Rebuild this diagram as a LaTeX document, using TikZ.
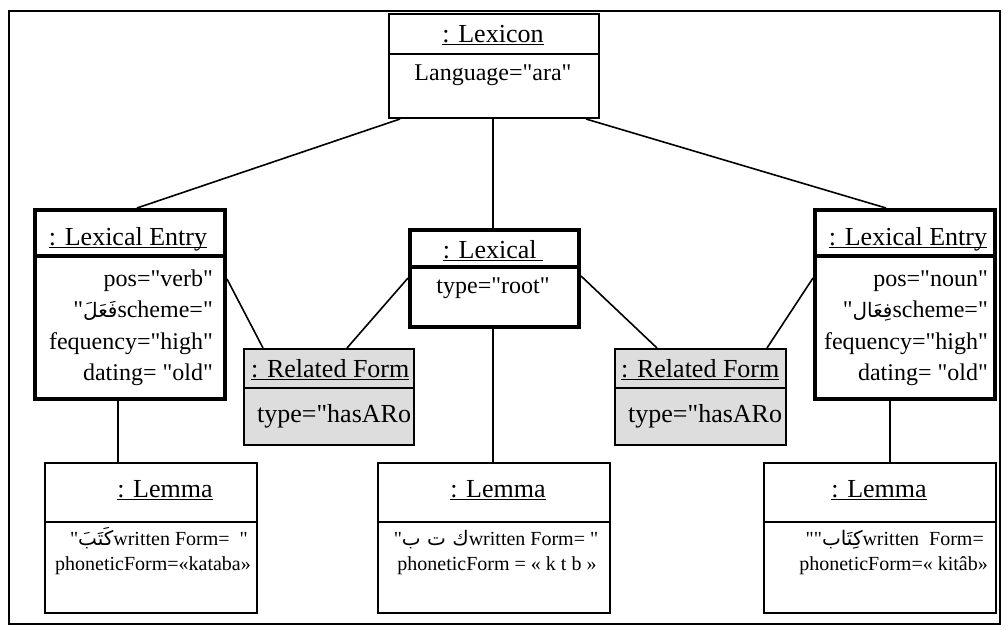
\documentclass[tikz,border=0pt]{standalone}
\usepackage{fontspec}
\setmainfont{Liberation Serif}[Ligatures=TeXOff]
\newfontfamily\arabicfont[Script=Arabic]{DejaVu Sans}
\TeXXeTstate=1
\usetikzlibrary{calc}

% underlined object name (UML instance header)
\newcommand\hdr[1]{\setbox0\hbox{#1}\rlap{\rule[-0.13em]{\wd0}{0.055em}}\box0}
% Arabic run inside a left-to-right line
\newcommand\artxt[1]{{\arabicfont\fontsize{20}{24}\selectfont\beginR #1\endR}}

\definecolor{rfgray}{RGB}{221,221,221}

\tikzset{
  objbox/.style={draw, line width=2pt, inner sep=0pt, anchor=north west},
  thickbox/.style={objbox, line width=4pt},
  relbox/.style={objbox, fill=rfgray},
  divider/.style={line width=2pt},
  thickdivider/.style={line width=4pt},
  link/.style={line width=1.6pt},
  head/.style={font=\fontsize{26}{30}\selectfont, inner sep=0pt, anchor=base},
  attr/.style={font=\fontsize{24}{28}\selectfont, inner sep=0pt},
  lattr/.style={font=\fontsize{20}{24}\selectfont, inner sep=0pt},
}

\begin{document}
\begin{tikzpicture}[x=1pt, y=-1pt]
\useasboundingbox (0,0) rectangle (1008,632);

% outer frame
\node[objbox, minimum width=991pt, minimum height=613pt] (frame) at (8,10) {};

% object boxes
\node[objbox, minimum width=210pt, minimum height=104pt, fill=white] (lex) at (388,13) {};
\node[thickbox, minimum width=190pt, minimum height=189pt] (entryL) at (33,208) {};
\node[thickbox, minimum width=180pt, minimum height=189pt] (entryR) at (813,208) {};
\node[thickbox, minimum width=169pt, minimum height=97pt] (root) at (408,228) {};
\node[relbox, minimum width=170pt, minimum height=96pt] (rfL) at (243,348) {};
\node[relbox, minimum width=171pt, minimum height=96pt] (rfR) at (614,348) {};
\node[objbox, minimum width=212pt, minimum height=150pt] (lemL) at (44,462) {};
\node[objbox, minimum width=232pt, minimum height=150pt] (lemM) at (377,462) {};
\node[objbox, minimum width=232pt, minimum height=150pt] (lemR) at (763,462) {};

% compartment dividers
\draw[divider] (lex.west |- 0,54) -- (lex.east |- 0,54);
\draw[thickdivider] (entryL.west |- 0,256) -- (entryL.east |- 0,256);
\draw[thickdivider] (entryR.west |- 0,256) -- (entryR.east |- 0,256);
\draw[thickdivider] (root.west |- 0,267) -- (root.east |- 0,267);
\draw[divider] (rfL.west |- 0,388) -- (rfL.east |- 0,388);
\draw[divider] (rfR.west |- 0,388) -- (rfR.east |- 0,388);
\draw[divider] (lemL.west |- 0,522) -- (lemL.east |- 0,522);
\draw[divider] (lemM.west |- 0,522) -- (lemM.east |- 0,522);
\draw[divider] (lemR.west |- 0,522) -- (lemR.east |- 0,522);

% links
\draw[link] (lex.south west -| 400,0) -- (entryL.north west -| 137,0);
\draw[link] (lex.south east -| 586,0) -- (entryR.north west -| 886,0);
\draw[link] (lex.south -| 493,0) -- (root.north -| 493,0);
\draw[link] (entryL.east |- 0,279) -- (rfL.north -| 263,0);
\draw[link] (root.west |- 0,278) -- (rfL.north -| 347,0);
\draw[link] (root.east |- 0,276) -- (rfR.north -| 657,0);
\draw[link] (entryR.west |- 0,278) -- (rfR.north -| 767,0);
\draw[link] (entryL.south -| 118,0) -- (lemL.north -| 118,0);
\draw[link] (root.south -| 493,0) -- (lemM.north -| 493,0);
\draw[link] (entryR.south -| 890,0) -- (lemR.north -| 890,0);

% Lexicon
\node[head] (lexh) at (493,42) {\hdr{: Lexicon}};
\node[attr, anchor=base] (lexa) at (493,80) {Language="ara"};

% left lexical entry
\node[head] (eLh) at (128,245) {\hdr{: Lexical Entry}};
\node[attr, anchor=base east] (eL1) at (213,286) {pos="verb"};
\node[attr, anchor=base east] (eL2) at (213,317) {"\artxt{فَعَلَ}scheme="};
\node[attr, anchor=base east] (eL3) at (213,349) {fequency="high"};
\node[attr, anchor=base east] (eL4) at (213,380) {dating= "old"};

% right lexical entry
\node[head] (eRh) at (908,245) {\hdr{: Lexical Entry}};
\node[attr, anchor=base east] (eR1) at (988,286) {pos="noun"};
\node[attr, anchor=base east] (eR2) at (988,317) {"\artxt{فِعَال}scheme="};
\node[attr, anchor=base east] (eR3) at (988,349) {fequency="high"};
\node[attr, anchor=base east] (eR4) at (988,380) {dating= "old"};

% root object
\node[head] (rooth) at (493,258) {\hdr{: Lexical\ }};
\node[attr, anchor=base] (roota) at (493,293) {type="root"};

% related forms
\node[head, anchor=base west] (rfLh) at (251,377) {\hdr{: Related Form}};
\node[head, anchor=base west] (rfRh) at (621,377) {\hdr{: Related Form}};
\begin{scope}
  \clip (rfL.north west) rectangle (rfL.south east);
  \node[head, anchor=base west] (rfLa) at (257,422) {type="hasARo};
\end{scope}
\begin{scope}
  \clip (rfR.north west) rectangle (rfR.south east);
  \node[head, anchor=base west] (rfRa) at (628,422) {type="hasARo};
\end{scope}

% lemmas
\node[head] (lLh) at (165,497) {\hdr{: Lemma}};
\node[lattr, anchor=base east] (lL1) at (248,545) {"\artxt{كَتَبَ}written Form=\ \ "};
\node[lattr, anchor=base east] (lL2) at (251,570) {phoneticForm=«kataba»};

\node[head] (lMh) at (498,497) {\hdr{: Lemma}};
\node[lattr, anchor=base] (lM1) at (496,545) {"\artxt{ك ت ب}written Form= "};
\node[lattr, anchor=base] (lM2) at (497,570) {phoneticForm = « k t b »};

\node[head] (lRh) at (879,497) {\hdr{: Lemma}};
\node[lattr, anchor=base east] (lR1) at (984,545) {""\artxt{كِتَاب}written\ \ Form=};
\node[lattr, anchor=base east] (lR2) at (988,570) {phoneticForm=« kitâb»};
\end{tikzpicture}
\end{document}
